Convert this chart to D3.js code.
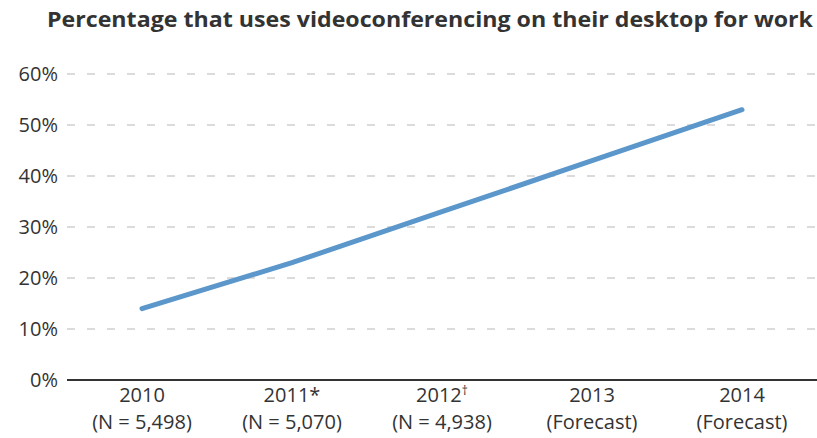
<!DOCTYPE html>
<html>
<head>
<meta charset="utf-8">
<script src="https://cdn.jsdelivr.net/npm/d3@7"></script>
<style>
  body { margin: 0; background: #fff; }
  text { font-family: "Open Sans", sans-serif; }
</style>
</head>
<body>
<div id="vis"></div>
<script>
// chart data
const years = ['2010', '2011', '2012', '2013', '2014']
const marks = ['', '*', '\u2020', '', '']
const subLabels = ['(N = 5,498)', '(N = 5,070)', '(N = 4,938)', '(Forecast)', '(Forecast)']
const share = [14, 23, 33, 43, 53]
const yTicks = [0, 10, 20, 30, 40, 50, 60]

const W = 817, H = 438
const margin = {left: 67, right: 0, top: 74, bottom: 58}

let svg = d3.select('#vis').append('svg')
  .attr('width', W)
  .attr('height', H)

let x = d3.scaleBand(years, [margin.left, W - margin.right]).padding(0)
let y = d3.scaleLinear([0, 60], [H - margin.bottom, margin.top])

// gridlines
svg.selectAll('.grid')
  .data(yTicks.filter(d => d > 0)).enter()
  .append('line')
  .attr('x1', margin.left)
  .attr('x2', W - margin.right)
  .attr('y1', d => y(d))
  .attr('y2', d => y(d))
  .attr('stroke', '#d0d0d0')
  .attr('stroke-width', 1.5)
  .attr('stroke-dasharray', '8,12')

// y labels
svg.selectAll('.ylab')
  .data(yTicks).enter()
  .append('text')
  .attr('x', 58)
  .attr('y', d => y(d))
  .attr('dy', '0.36em')
  .attr('text-anchor', 'end')
  .attr('font-size', 20)
  .attr('fill', '#333')
  .text(d => d + '%')

// baseline
svg.append('line')
  .attr('x1', margin.left)
  .attr('x2', W - margin.right)
  .attr('y1', y(0))
  .attr('y2', y(0))
  .attr('stroke', '#333')
  .attr('stroke-width', 2)

// x labels
let xl = svg.selectAll('.xlab')
  .data(years).enter()
  .append('g')
  .attr('fill', '#333')
  .attr('font-size', 20)
xl.append('text')
  .attr('x', d => x(d) + x.bandwidth() / 2)
  .attr('y', 402)
  .attr('text-anchor', 'middle')
  .text(d => d)
  .append('tspan')
  .attr('font-size', (d, i) => marks[i] == '*' ? 20 : 12)
  .attr('dy', (d, i) => marks[i] == '\u2020' ? -7 : 0)
  .text((d, i) => marks[i])
xl.append('text')
  .attr('x', d => x(d) + x.bandwidth() / 2)
  .attr('y', 429)
  .attr('text-anchor', 'middle')
  .text((d, i) => subLabels[i])

// line
let line = d3.line()
  .x((d, i) => x(years[i]) + x.bandwidth() / 2)
  .y(d => y(d))

svg.append('path')
  .datum(share)
  .attr('d', line)
  .attr('fill', 'none')
  .attr('stroke', '#5b97cb')
  .attr('stroke-width', 5)
  .attr('stroke-linecap', 'round')

// title
svg.append('text')
  .attr('x', 47)
  .attr('y', 27)
  .attr('font-size', 21)
  .attr('font-weight', 700)
  .attr('fill', '#333')
  .attr('textLength', 766)
  .attr('lengthAdjust', 'spacingAndGlyphs')
  .text('Percentage that uses videoconferencing on their desktop for work')
</script>
</body>
</html>
